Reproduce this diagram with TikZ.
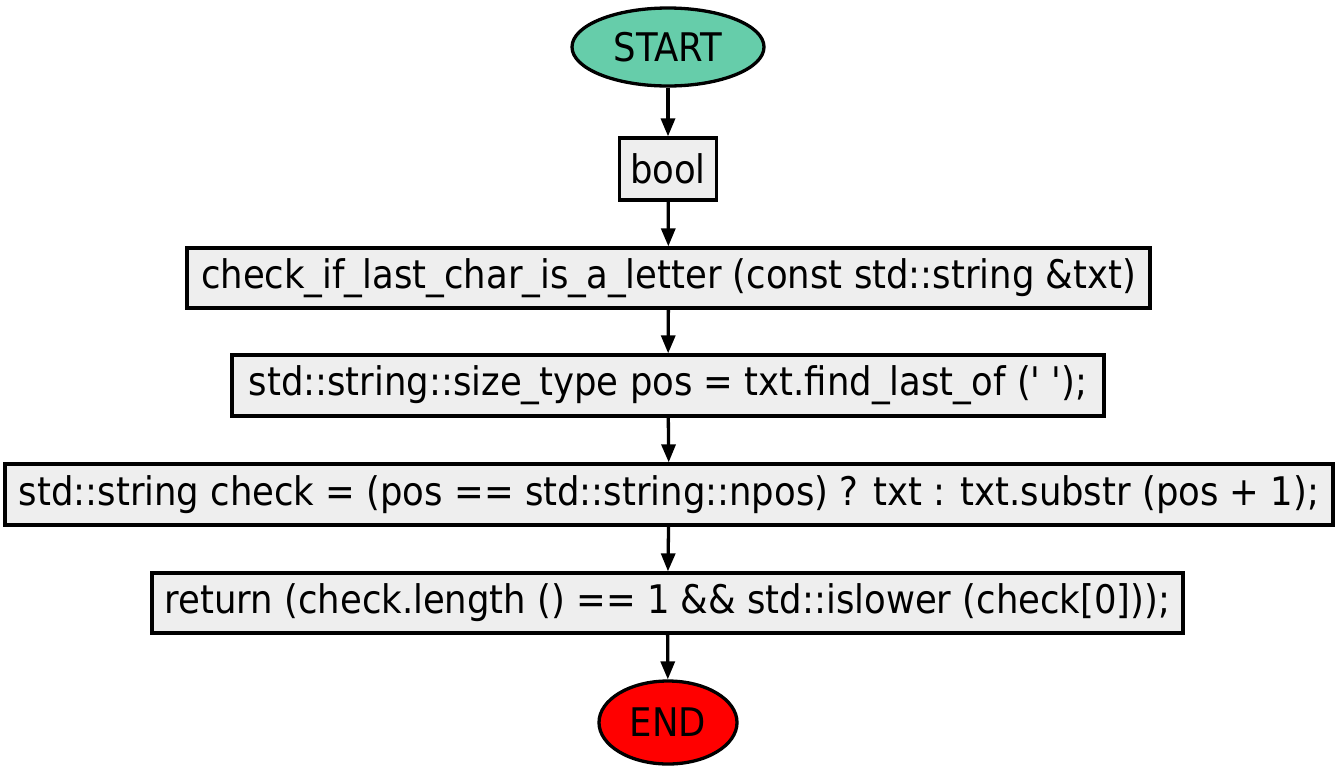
\documentclass[tikz,border=0pt]{standalone}
\usepackage{fontspec}
\setmainfont{DejaVu Sans Condensed}[Ligatures=TeXOff]
\usetikzlibrary{shapes.geometric,arrows.meta}
\definecolor{startc}{HTML}{66CDAA}
\definecolor{boxc}{HTML}{EEEEEE}
\tikzset{
  every node/.style={font=\fontsize{39.4}{42}\selectfont},
  stepbox/.style={draw=black, line width=3.3pt, fill=boxc, rectangle, inner sep=0pt, anchor=center},
  term/.style={draw=black, line width=3.3pt, ellipse, inner sep=0pt},
  conn/.style={line width=3.3pt, -{Triangle[length=18pt,width=14pt]}},
}
\begin{document}
\begin{tikzpicture}[x=1pt,y=-1pt]
\useasboundingbox (0,0) rectangle (1337,774);
\node[term, fill=startc, minimum width=192pt, minimum height=78pt] (start) at (668,47) {START};
\node[stepbox, minimum width=97pt, minimum height=62pt] (b1) at (668,169) {bool};
\node[stepbox, minimum width=963pt, minimum height=60pt] (b2) at (668.5,278) {check\_if\_last\_char\_is\_a\_letter (const std::string \&txt)};
\node[stepbox, minimum width=872pt, minimum height=61pt] (b3) at (668,385.5) {std::string::size\_type pos = txt.find\_last\_of (' ');};
\node[stepbox, minimum width=1328pt, minimum height=61pt] (b4) at (669,494.5) {std::string check = (pos == std::string::npos) ? txt : txt.substr (pos + 1);};
\node[stepbox, minimum width=1031pt, minimum height=60pt] (b5) at (667.5,603) {return (check.length () == 1 \&\& std::islower (check[0]));};
\node[term, fill=red, minimum width=138pt, minimum height=83pt] (end) at (668,722.5) {END};
\draw[conn] (start) -- (b1);
\draw[conn] (b1) -- (b2);
\draw[conn] (b2) -- (b3);
\draw[conn] (b3) -- (b4);
\draw[conn] (b4) -- (b5);
\draw[conn] (b5) -- (end);
\end{tikzpicture}
\end{document}
